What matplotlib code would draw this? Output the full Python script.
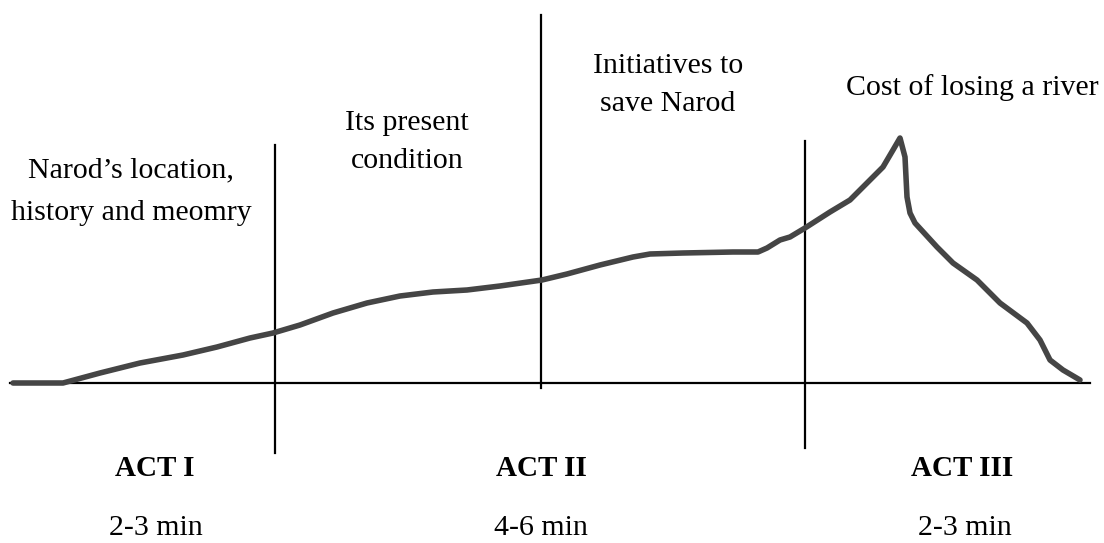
import numpy as np
import matplotlib.pyplot as plt

plt.rcParams['font.family'] = ['Liberation Serif', 'DejaVu Serif']

# story arc: progress (x) vs tension (height above baseline)
progress = [13, 63, 100, 140, 183, 217, 250, 273, 300, 333, 367, 400, 433, 467,
            500, 542, 567, 600, 633, 650, 683, 733, 758, 767, 780, 790, 805, 830,
            850, 867, 883, 893, 900, 905, 907, 910, 915, 937, 953, 977, 1000,
            1027, 1040, 1050, 1063, 1080]
tension = [0, 0, 10, 20, 28, 36, 45, 50, 58, 70, 80, 87, 91, 93,
           97, 103, 109, 118, 126, 129, 130, 131, 131, 135, 143, 146, 155, 171,
           183, 200, 216, 233, 245, 226, 186, 170, 160, 136, 120, 103, 80,
           60, 43, 23, 13, 3]

act_breaks = [275, 541, 805]
break_top = [238, 368, 242]
break_bottom = [-70, -5, -65]

beats = ["Narod\u2019s location,\nhistory and meomry", "Its present\ncondition",
         "Initiatives to\nsave Narod", "Cost of losing a river"]
beat_x = [131, 407, 668, 972]
beat_y = [191, 241, 298, 295]
beat_spacing = [1.85, 1.6, 1.6, 1.6]

acts = ["ACT I", "ACT II", "ACT III"]
act_x = [155, 541, 962]
durations = ["2-3 min", "4-6 min", "2-3 min"]
dur_x = [156, 541, 965]

fig = plt.figure(figsize=(11.04, 5.43), dpi=100)
ax = fig.add_axes([0, 0, 1, 1])
ax.set_xlim(0, 1104)
ax.set_ylim(-160, 383)
ax.axis('off')

# baseline and act separators
ax.plot([10, 1090], [0, 0], color='black', lw=1.6)
for xb, yt, yb in zip(act_breaks, break_top, break_bottom):
    ax.plot([xb, xb], [yb, yt], color='black', lw=1.6)

ax.plot(progress, tension, color='#454545', lw=4, solid_capstyle='round',
        solid_joinstyle='round')

for t, x, y, ls in zip(beats, beat_x, beat_y, beat_spacing):
    ax.text(x, y, t, ha='center', va='center', fontsize=21.5, linespacing=ls)

for t, x in zip(acts, act_x):
    ax.text(x, -85, t, ha='center', va='center', fontsize=21, fontweight='bold')
for t, x in zip(durations, dur_x):
    ax.text(x, -145, t, ha='center', va='center', fontsize=21.5)

fig.savefig('out.png', dpi=100)
